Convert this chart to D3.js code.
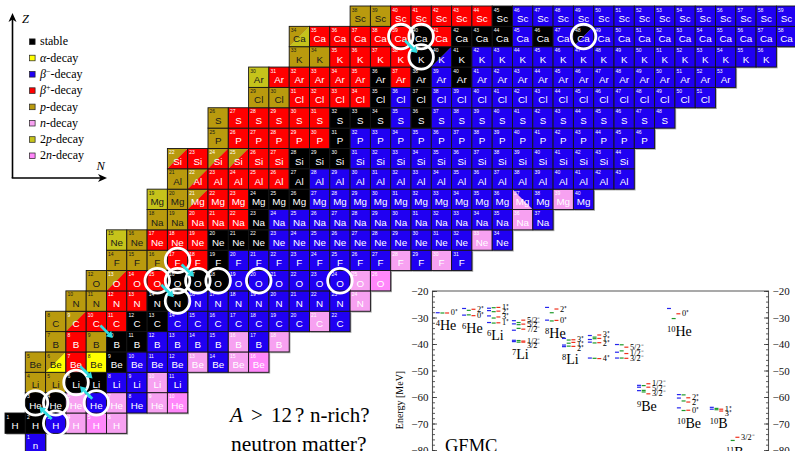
<!DOCTYPE html>
<html>
<head>
<meta charset="utf-8">
<script src="https://cdn.jsdelivr.net/npm/d3@7"></script>
<style>
    html, body { margin: 0; padding: 0; background: #fff; }
    svg { display: block; }
</style>
</head>
<body>
<svg id="chart" width="795" height="451"></svg>
<script>
"use strict";

// nuclide chart: one row per Z, decay mode of every isotope from the lightest one
// k stable, a alpha, b beta-, r beta+, p p, n n, P 2p, N 2n
// "x/y" = upper-left x / lower-right y, "x\y" = lower-left x / upper-right y
const elements = ["n", "H", "He", "Li", "Be", "B", "C", "N", "O", "F", "Ne", "Na", "Mg", "Al", "Si", "P", "S", "Cl", "Ar", "K", "Ca", "Sc"];
const firstMass = [1, 1, 3, 4, 5, 7, 8, 10, 12, 14, 15, 18, 19, 21, 22, 25, 26, 29, 30, 33, 34, 38];
const decayRows = [
    "b",
    "k k b n N n",
    "k k n b n b n N",
    "p p k k b b n b",
    "p p/a r a k b b b n b n N",
    "p r p k k b b b b n b n",
    "p p/r r r k k b b b b b b b n b",
    "p p r r k k b b b b b b b b n",
    "p p/r r r k k k b b b b b b n N",
    "p p p r r k b b b b b b b b n b n b",
    "P p r r r k k k b b b b b b b b b b n b",
    "p p r r r k b b b b b b b b b b b b n b",
    "P p p/r r r k k k b b b b b b b b b b n\\b b n b",
    "p p/r r r r r k b b b b b b b b b b b b b b b b",
    "p/r r p/r p/r r r k k k b b b b b b b b b b b b b b",
    "p r r r r r k b b b b b b b b b b b b b b b",
    "p r r r r r k k k b k b b b b b b b b b b b b",
    "p p r r r r k b k b b b b b b b b b b b b b b",
    "P r r r r r k r k b k b b b b b b b b b b b b b",
    "p p r r r r k k/b k b b b b b b b b b b b b b b b",
    "p/P r r r r r k r k k k b k b k/b b b b b b b b b b b",
    "p p r r r r r k b b b b b b b b b b b b b b"
];

// circled nuclei [Z, A] and decay arrows [Z, A] -> [Z, A]
const circled = [[2, 3], [2, 4], [1, 3], [3, 6], [2, 6], [8, 15], [8, 16], [8, 17], [8, 18], [8, 20], [8, 24], [7, 15], [9, 17], [20, 39], [20, 40], [19, 39], [20, 48]];
const decayArrows = [[1, 3, 2, 3], [2, 6, 3, 6], [4, 7, 3, 7], [6, 10, 5, 10], [8, 15, 7, 15], [9, 17, 8, 17], [20, 39, 19, 39]];

// legend
const legendCodes = ["k", "a", "b", "r", "p", "n", "P", "N"];
const legendText = [
    [["stable"]],
    [["α", "i"], ["-decay"]],
    [["β", "i"], ["−", "s"], ["-decay"]],
    [["β", "i"], ["+", "s"], ["-decay"]],
    [["p", "i"], ["-decay"]],
    [["n", "i"], ["-decay"]],
    [["2"], ["p", "i"], ["-decay"]],
    [["2"], ["n", "i"], ["-decay"]]
];

// GFMC inset: nuclei and their levels [J^pi, E blue, E green, E red] in MeV
const nucleusMass = ["4", "6", "6", "7", "8", "8", "", "", "9", "10", "10", "10", "11"];
const nucleusSymbol = ["He", "He", "Li", "Li", "He", "Li", "", "", "Be", "He", "Be", "B", "B"];
const nucleusSlot = [0, 1.09, 2.12, 3.15, 4.52, 5.22, 6.29, 7.41, 8.32, 9.56, 9.97, 11.33, 12.0];
const nucleusLevels = [
    [["0⁺", -28.2, -28.3, -28.3]],
    [["2⁺", -26.6, -27.3, -26.9], ["0⁺", -29.1, -29.0, -29.3]],
    [["1⁺", -26.5, -26.3, -26.2], ["2⁺", -27.4, -27.8, -27.6], ["3⁺", -29.4, -30.2, -29.8], ["1⁺", -31.9, -32.1, -32.0]],
    [["5/2⁻", -31.2, -31.9, -31.0], ["5/2⁻", -32.4, -32.7, -32.5], ["7/2⁻", -34.8, -34.1, -34.4], ["1/2⁻", -38.6, -38.7, -38.9], ["3/2⁻", -39.1, -39.3, -39.3]],
    [["2⁺", -26.2, -28.2, -26.8], ["0⁺", -31.0, -31.3, -31.1]],
    [["3⁺", -37.9, -38.5, -38.4], ["1⁺", -40.4, -39.7, -39.4], ["2⁺", -41.0, -40.8, -40.9]],
    [["3⁺", -36.8, -37.4, -36.6], ["1⁺", -38.3, -38.0, -37.9], ["2⁺", -39.3, -39.6, -39.5], ["4⁺", -45.3, -45.4, -45.5]],
    [["5/2⁻", -40.2, -40.3, -41.2], ["1/2⁻", -43.1, -42.6, -43.6], ["3/2⁻", -45.3, -45.3, -45.4]],
    [["1/2⁻", -55.6, -55.7, -55.0], ["5/2⁻", -56.3, -57.5, -56.3], ["3/2⁻", -57.6, -58.1, -58.8]],
    [["0⁺", -26.6, -30.4, -28.6]],
    [["2⁺", -59.1, -59.2, -60.3], ["2⁺", -60.4, -61.5, -61.9], ["0⁺", -64.1, -65.1, -65.0]],
    [["1⁺", -63.9, -64.3, -64.6], ["3⁺", -64.6, -64.8, -65.3]],
    [["3/2⁻", null, -76.4, -75.2]]
];
const energyTicks = [-80, -70, -60, -50, -40, -30, -20];



// colours
const decayColor = {k: "#000000", a: "#ffff00", b: "#2000f2", r: "#ff0000", p: "#b99a0e", n: "#f7a1f1", P: "#c6c31b", N: "#ff87fa"};
const darkText = ["a", "p", "P"];
const levelColor = ["#2424ee", "#1e9a2a", "#f0301c"];
const serif = "'Liberation Serif', 'Times New Roman', serif";
const sans = "'Liberation Sans', Arial, sans-serif";

const svg = d3.select("#chart");



// rich text helper (italic / superscript parts)
function richText(sel, parts, supSize) {
    let shifted = false;
    parts.forEach(p => {
        let t = sel.append("tspan").text(p[0]);
        if (p[1] === "i") t.attr("font-style", "italic");
        if (p[1] === "s") {
            t.attr("font-size", supSize).attr("dy", -4);
            shifted = true;
        }
        else if (shifted) {
            t.attr("dy", 4);
            shifted = false;
        }
    });
}



// scales for the grid
const xN = d3.scaleLinear().domain([0, 39]).range([5, 5 + 39 * 20.3]);
const yZ = d3.scaleLinear().domain([0, 22]).range([6 + 22 * 20.35, 6]);
const cw = xN(1) - xN(0), ch = yZ(0) - yZ(1);



// cells
let cells = [];
decayRows.forEach((row, z) => {
    row.split(" ").forEach((code, i) => {
        let a = firstMass[z] + i;
        cells.push({z: z, a: a, n: a - z, code: code, sym: elements[z]});
    });
});

let grid = svg.append("g").attr("class", "grid");

grid.selectAll("rect.shadow")
.data(cells)
.enter()
.append("rect")
.attr("class", "shadow")
.attr("x", d => xN(d.n) + 1.3)
.attr("y", d => yZ(d.z + 1) + 1.3)
.attr("width", cw)
.attr("height", ch)
.attr("fill", "#a8a8a8");

grid.selectAll("g.cell")
.data(cells)
.enter()
.append("g")
.attr("class", "cell")
.attr("transform", d => `translate(${xN(d.n)}, ${yZ(d.z + 1)})`)
.each(function(d) {
    let g = d3.select(this);
    if (d.code.length == 3) {
        let c1 = decayColor[d.code[0]], c2 = decayColor[d.code[2]];
        let t1, t2;
        if (d.code[1] == "/") {
            t1 = [[0, 0], [cw, 0], [0, ch]];
            t2 = [[cw, 0], [cw, ch], [0, ch]];
        }
        else {
            t1 = [[0, 0], [0, ch], [cw, ch]];
            t2 = [[0, 0], [cw, 0], [cw, ch]];
        }
        g.append("polygon").attr("points", t1.join(" ")).attr("fill", c1);
        g.append("polygon").attr("points", t2.join(" ")).attr("fill", c2);
    }
    else {
        g.append("rect").attr("width", cw).attr("height", ch).attr("fill", decayColor[d.code]);
    }
    g.append("rect")
    .attr("width", cw)
    .attr("height", ch)
    .attr("fill", "none")
    .attr("stroke", "#151515")
    .attr("stroke-width", 0.9);

    let txt = darkText.includes(d.code[d.code.length - 1]) ? "#1a1a1a" : "#ffffff";
    g.append("text")
    .attr("x", 1.6)
    .attr("y", 5.6)
    .attr("font-family", sans)
    .attr("font-size", 5)
    .attr("fill", txt)
    .text(d.a);
    g.append("text")
    .attr("x", cw / 2)
    .attr("y", ch * 0.79)
    .attr("text-anchor", "middle")
    .attr("font-family", sans)
    .attr("font-size", 9.8)
    .attr("fill", txt)
    .text(d.sym);
});



// circles
svg.append("g")
.selectAll("circle")
.data(circled)
.enter()
.append("circle")
.attr("cx", d => xN(d[1] - d[0] + 0.5))
.attr("cy", d => yZ(d[0] + 0.5))
.attr("r", 12.3)
.attr("fill", "none")
.attr("stroke", "#ffffff")
.attr("stroke-width", 2.8);



// arrows
let arrowG = svg.append("g");
decayArrows.forEach(d => {
    let x1 = xN(d[1] - d[0] + 0.5), y1 = yZ(d[0] + 0.5);
    let x2 = xN(d[3] - d[2] + 0.5), y2 = yZ(d[2] + 0.5);
    let dx = x2 - x1, dy = y2 - y1, len = Math.hypot(dx, dy);
    let ux = dx / len, uy = dy / len;
    let s = 0.2 * len, e = 0.6 * len, tip = 0.81 * len;
    arrowG.append("line")
    .attr("x1", x1 + ux * s).attr("y1", y1 + uy * s)
    .attr("x2", x1 + ux * e).attr("y2", y1 + uy * e)
    .attr("stroke", "#2fdde2")
    .attr("stroke-width", 2.8);
    let bx = x1 + ux * e, by = y1 + uy * e;
    arrowG.append("polygon")
    .attr("points", [[x1 + ux * tip, y1 + uy * tip], [bx - uy * 3.8, by + ux * 3.8], [bx + uy * 3.8, by - ux * 3.8]].join(" "))
    .attr("fill", "#2fdde2");
});



// axes arrows N / Z
let ax = svg.append("g");
ax.append("line").attr("x1", 12.5).attr("y1", 178).attr("x2", 12.5).attr("y2", 19).attr("stroke", "#000").attr("stroke-width", 1.6);
ax.append("line").attr("x1", 11.7).attr("y1", 178).attr("x2", 101).attr("y2", 178).attr("stroke", "#000").attr("stroke-width", 1.6);
ax.append("polygon").attr("points", "12.5,13 8.5,22 12.5,19.5 16.5,22").attr("fill", "#000");
ax.append("polygon").attr("points", "107,178 98,174 100.5,178 98,182").attr("fill", "#000");
ax.append("text").attr("x", 22).attr("y", 23).attr("font-family", serif).attr("font-style", "italic").attr("font-size", 12.5).text("Z");
ax.append("text").attr("x", 96.5).attr("y", 170).attr("font-family", serif).attr("font-style", "italic").attr("font-size", 12.5).text("N");



// legend
const yLeg = d3.scaleLinear().domain([0, 7]).range([41.7, 155.8]);
let legend = svg.append("g").attr("class", "legend");
legendCodes.forEach((c, i) => {
    legend.append("rect")
    .attr("x", 29.5)
    .attr("y", yLeg(i) - 2.8)
    .attr("width", 5.6)
    .attr("height", 5.6)
    .attr("fill", decayColor[c])
    .attr("stroke", "#222")
    .attr("stroke-width", 0.7);
    let t = legend.append("text")
    .attr("x", 40)
    .attr("y", yLeg(i) + 3.6)
    .attr("font-family", serif)
    .attr("font-size", 12);
    richText(t, legendText[i], 8);
});



// question text
let q1 = svg.append("text").attr("y", 422).attr("font-family", serif).attr("font-size", 21);
q1.append("tspan").attr("x", 230).attr("font-style", "italic").text("A");
q1.append("tspan").attr("x", 251).text(">");
q1.append("tspan").attr("x", 271).text("12");
q1.append("tspan").attr("x", 295).text("?");
q1.append("tspan").attr("x", 310).text("n-rich?");
svg.append("text").attr("x", 231).attr("y", 451).attr("font-family", serif).attr("font-size", 21.5).text("neutron matter?");



// GFMC inset
const yE = d3.scaleLinear().domain([-80, -20]).range([450, 291]);
const xSlot = d3.scaleLinear().domain([0, 12]).range([435.7, 726]);
const xLeft = 432.5, xRight = 768.5;
let inset = svg.append("g").attr("class", "inset");

inset.append("rect")
.attr("x", xLeft).attr("y", yE(-20))
.attr("width", xRight - xLeft).attr("height", 170)
.attr("fill", "#fff");

inset.append("path")
.attr("d", `M${xLeft},462 V${yE(-20)} H${xRight} V462`)
.attr("fill", "none")
.attr("stroke", "#555")
.attr("stroke-width", 1.1);

[[xLeft, d3.axisLeft], [xRight, d3.axisRight]].forEach(side => {
    let major = inset.append("g")
    .attr("transform", `translate(${side[0]}, 0)`)
    .call(side[1](yE).tickValues(energyTicks).tickSizeInner(-4.5).tickSizeOuter(0).tickPadding(4));
    let minor = inset.append("g")
    .attr("transform", `translate(${side[0]}, 0)`)
    .call(side[1](yE).tickValues(d3.range(-80, -19, 2)).tickSizeInner(-2.5).tickSizeOuter(0).tickFormat(""));
    [major, minor].forEach(a => {
        a.select(".domain").remove();
        a.selectAll("line").attr("stroke", "#333").attr("stroke-width", 0.8);
    });
    major.selectAll("text").attr("font-family", serif).attr("font-size", 11).attr("fill", "#111");
});

inset.append("text")
.attr("transform", "translate(403, 400) rotate(-90)")
.attr("text-anchor", "middle")
.attr("font-family", serif)
.attr("font-size", 10)
.text("Energy [MeV]");

inset.append("text")
.attr("x", 445)
.attr("y", 452)
.attr("font-family", serif)
.attr("font-size", 18.5)
.text("GFMC");

nucleusLevels.forEach((levels, i) => {
    let x0 = xSlot(nucleusSlot[i]);
    let g = inset.append("g");
    let lowest = 0;
    let prevY = -100;
    levels.forEach(lv => {
        [1, 2, 3].forEach(k => {
            if (lv[k] === null) return;
            lowest = Math.min(lowest, lv[k]);
            g.append("line")
            .attr("x1", x0 + (k - 1) * 4.7)
            .attr("x2", x0 + (k - 1) * 4.7 + 4)
            .attr("y1", yE(lv[k]))
            .attr("y2", yE(lv[k]))
            .attr("stroke", levelColor[k - 1])
            .attr("stroke-width", 1.2);
        });
        let ly = Math.max(yE(lv[3]), prevY + 4.3);
        prevY = ly;
        g.append("text")
        .attr("x", x0 + 15)
        .attr("y", ly + 2.5)
        .attr("font-family", serif)
        .attr("font-size", 8.3)
        .text(lv[0]);
    });
    if (nucleusSymbol[i] != "") {
        let t = g.append("text")
        .attr("x", x0)
        .attr("y", yE(lowest) + 17)
        .attr("font-family", serif)
        .attr("font-size", 14);
        richText(t, [[nucleusMass[i], "s"], [nucleusSymbol[i]]], 8.5);
    }
});
</script>
</body>
</html>
